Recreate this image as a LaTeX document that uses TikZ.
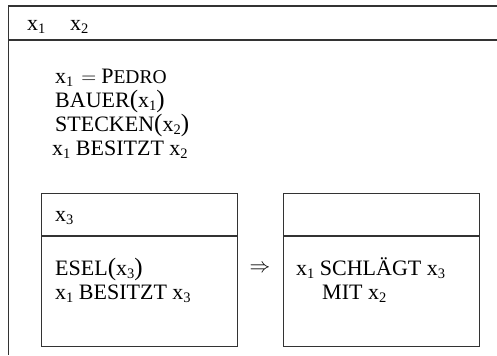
\documentclass[tikz,border=0pt]{standalone}
\usepackage{fontspec}
\setmainfont{Liberation Serif}
\usetikzlibrary{calc}
\newcommand\smc[1]{{\fontsize{19.5bp}{19.5bp}\selectfont #1}}
\newcommand\sbn[1]{\raisebox{-0.18em}{\fontsize{14.5bp}{14.5bp}\selectfont #1}}
\newcommand\lp{{\fontsize{25bp}{25bp}\selectfont(}}
\newcommand\rp{{\fontsize{25bp}{25bp}\selectfont)}}
\begin{document}
\begin{tikzpicture}[x=1bp,y=-1bp,
  txt/.style={inner sep=0pt,anchor=base west,font=\fontsize{22bp}{24bp}\selectfont},
  frame/.style={line width=1.2bp,draw=black!80},
  subbox/.style={frame,rectangle,inner sep=0pt,minimum width=196bp,minimum height=153bp,anchor=north west}]
\useasboundingbox (0,0) rectangle (497,355);
% outer frame
\coordinate (otr) at (497,6);
\coordinate (otl) at (8.5,6);
\coordinate (obl) at (8.5,355);
\coordinate (osl) at (8.5,40);
\coordinate (osr) at (497,40);
\draw[frame] (otr) -- (otl) -- (obl);
\draw[frame] (osl) -- (osr);
% header
\node[txt] (h1) at (27,30) {x\sbn{1}};
\node[txt] (h2) at (70,30) {x\sbn{2}};
% conditions
\node[txt] (c1) at (55,83) {x\sbn{1}\hspace{8bp}$=$\hspace{5bp}P\smc{EDRO}};
\node[txt] (c2) at (55,107) {BAUER\lp x\sbn{1}\rp};
\node[txt] (c3) at (55,131) {STECKEN\lp x\sbn{2}\rp};
\node[txt] (c4) at (52,155) {x\sbn{1} BESITZT x\sbn{2}};
% inner boxes
\node[subbox] (lb) at (41,193) {};
\node[subbox] (rb) at (283,193) {};
\draw[frame] ($(lb.north west)+(0,43)$) -- ($(lb.north east)+(0,43)$);
\draw[frame] ($(rb.north west)+(0,43)$) -- ($(rb.north east)+(0,43)$);
\node[txt] (l0) at (55,221) {x\sbn{3}};
\node[txt] (l1) at (55,275) {ESEL\lp x\sbn{3}\rp};
\node[txt] (l2) at (55,299) {x\sbn{1} BESITZT x\sbn{3}};
\node[txt] (r1) at (296,275) {x\sbn{1} SCHLÄGT x\sbn{3}};
\node[txt] (r2) at (322,299) {MIT x\sbn{2}};
\node[inner sep=0pt,font=\fontsize{19bp}{19bp}\selectfont] (arr) at (260,269) {$\Rightarrow$};
\end{tikzpicture}
\end{document}
